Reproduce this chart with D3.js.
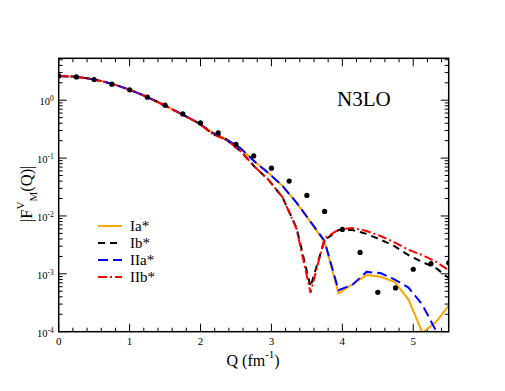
<!DOCTYPE html>
<html>
<head>
<meta charset="utf-8">
<script src="https://cdn.jsdelivr.net/npm/d3@7"></script>
<style>
  body { margin: 0; background: #fff; }
  text { font-family: "Liberation Serif", "Times New Roman", serif; fill: #000; }
</style>
</head>
<body>
<script>
// momentum grid of the calculated curves (fm^-1)
const Q = [0, 0.197, 0.395, 0.592, 0.789, 0.987, 1.184, 1.381, 1.578, 1.776,
  1.973, 2.170, 2.368, 2.565, 2.762, 2.960, 3.157, 3.354, 3.551, 3.749,
  3.946, 4.143, 4.341, 4.538, 4.735, 4.933, 5.130, 5.327, 5.524];

const IaStar = [2.62, 2.56, 2.40, 2.16, 1.86, 1.54, 1.23, 0.95, 0.72, 0.54,
  0.40, 0.275, 0.21, 0.148, 0.087, 0.055, 0.033, 0.017, 0.0078, 0.0036,
  4.6e-4, 6.6e-4, 9.5e-4, 8.9e-4, 7.3e-4, 3.6e-4, 9.5e-5, 1.5e-4, 3.1e-4];

const IbStar = [2.62, 2.56, 2.40, 2.16, 1.86, 1.54, 1.23, 0.95, 0.72, 0.54,
  0.40, 0.263, 0.205, 0.132, 0.071, 0.042, 0.021, 0.0062, 6.0e-4, 0.0038,
  0.0057, 0.0057, 0.0049, 0.0039, 0.0030, 0.0021, 0.0016, 0.00124, 8.0e-4];

const IIaStar = [2.62, 2.56, 2.40, 2.16, 1.86, 1.54, 1.23, 0.95, 0.72, 0.54,
  0.40, 0.275, 0.21, 0.148, 0.087, 0.055, 0.033, 0.017, 0.0080, 0.0037,
  5.2e-4, 6.5e-4, 1.08e-3, 1.03e-3, 8.0e-4, 5.8e-4, 2.9e-4, 1.0e-4, 5.0e-5];

const IIbStar = [2.62, 2.56, 2.40, 2.16, 1.86, 1.54, 1.23, 0.95, 0.72, 0.54,
  0.40, 0.263, 0.205, 0.132, 0.071, 0.042, 0.021, 0.0060, 4.7e-4, 0.0041,
  0.0058, 0.0062, 0.0055, 0.0045, 0.0035, 0.0026, 0.0021, 0.0016, 0.0011];

// experimental points
const dotQ = [0, 0.25, 0.5, 0.75, 1.0, 1.25, 1.5, 1.75, 2.0, 2.25, 2.5, 2.75,
  3.0, 3.25, 3.5, 3.75, 4.0, 4.25, 4.5, 4.75, 5.0, 5.25, 5.5];
const dotF = [2.63, 2.53, 2.28, 1.89, 1.51, 1.13, 0.82, 0.58, 0.405, 0.272, 0.172, 0.109,
  0.067, 0.040, 0.0226, 0.012, 0.00585, 0.00234, 4.8e-4, 5.7e-4, 0.0012, 0.0015, 0.00155];

const seriesNames = ["Ia*", "Ib*", "IIa*", "IIb*"];
const xTicks = [0, 1, 2, 3, 4, 5];
const yExponents = [-4, -3, -2, -1, 0];

const series = [
  { name: seriesNames[0], values: IaStar, color: "#ffa500", dash: null },
  { name: seriesNames[1], values: IbStar, color: "#000000", dash: "7,5" },
  { name: seriesNames[2], values: IIaStar, color: "#0000ff", dash: "10,5" },
  { name: seriesNames[3], values: IIbStar, color: "#ff0000", dash: "9,3,2,3" }
];

const width = 505, height = 391;
const plotLeft = 58.7, plotRight = 448.7, plotTop = 58.3, plotBottom = 331.7;

const x = d3.scaleLinear().domain([0, 5.5]).range([plotLeft, plotRight]);
const y = d3.scaleLog().domain([1e-4, 5.3]).range([plotBottom, plotTop]);

const svg = d3.select("body").append("svg")
    .attr("width", width)
    .attr("height", height);

svg.append("clipPath").attr("id", "plotClip")
  .append("rect")
    .attr("x", plotLeft).attr("y", plotTop)
    .attr("width", plotRight - plotLeft).attr("height", plotBottom - plotTop);

// ticks, all pointing inward, mirrored on top and right
const ticks = svg.append("g").attr("stroke", "#000").attr("stroke-width", 1);
const xMinor = d3.range(0, 5.51, 0.2).filter(v => Math.abs(v - Math.round(v)) > 1e-6);
xMinor.forEach(v => {
  ticks.append("line").attr("x1", x(v)).attr("x2", x(v)).attr("y1", plotBottom).attr("y2", plotBottom - 4);
  ticks.append("line").attr("x1", x(v)).attr("x2", x(v)).attr("y1", plotTop).attr("y2", plotTop + 4);
});
xTicks.forEach(v => {
  ticks.append("line").attr("x1", x(v)).attr("x2", x(v)).attr("y1", plotBottom).attr("y2", plotBottom - 8);
  ticks.append("line").attr("x1", x(v)).attr("x2", x(v)).attr("y1", plotTop).attr("y2", plotTop + 8);
});
const yMinor = y.ticks().filter(v => {
  const m = v / Math.pow(10, Math.floor(Math.log10(v) + 1e-9));
  return Math.abs(m - 1) > 1e-6;
});
yMinor.forEach(v => {
  ticks.append("line").attr("x1", plotLeft).attr("x2", plotLeft + 4).attr("y1", y(v)).attr("y2", y(v));
  ticks.append("line").attr("x1", plotRight).attr("x2", plotRight - 4).attr("y1", y(v)).attr("y2", y(v));
});
yExponents.forEach(e => {
  const v = Math.pow(10, e);
  ticks.append("line").attr("x1", plotLeft).attr("x2", plotLeft + 8).attr("y1", y(v)).attr("y2", y(v));
  ticks.append("line").attr("x1", plotRight).attr("x2", plotRight - 8).attr("y1", y(v)).attr("y2", y(v));
});

// tick labels
svg.append("g").selectAll("text")
  .data(xTicks)
  .join("text")
    .attr("x", d => x(d))
    .attr("y", plotBottom + 13)
    .attr("text-anchor", "middle")
    .style("font-size", "11px")
    .text(d => d);

const yLab = svg.append("g").selectAll("text")
  .data(yExponents)
  .join("text")
    .attr("x", plotLeft - 5)
    .attr("y", d => y(Math.pow(10, d)) + 5)
    .attr("text-anchor", "end")
    .style("font-size", "10.5px");
yLab.append("tspan").text("10");
yLab.append("tspan").attr("dy", -4).style("font-size", "7.5px").text(d => d);

// axis titles
const xTitle = svg.append("text")
    .attr("x", 226.5)
    .attr("y", 365.5)
    .style("font-size", "16px");
xTitle.append("tspan").text("Q (fm");
xTitle.append("tspan").attr("dy", -8).style("font-size", "11px").text("-1");
xTitle.append("tspan").attr("dy", 8).text(")");

const yTitle = svg.append("text")
    .attr("transform", "translate(32,222) rotate(-90)")
    .style("font-size", "16.5px");
yTitle.append("tspan").text("|F");
yTitle.append("tspan").attr("dy", -8).style("font-size", "11px").text("V");
yTitle.append("tspan").attr("dy", 13).style("font-size", "11px").text("M");
yTitle.append("tspan").attr("dy", -5).text("(Q)|");

// curves
const line = d3.line()
    .x(d => x(d[0]))
    .y(d => y(d[1]));

const plot = svg.append("g").attr("clip-path", "url(#plotClip)");

plot.selectAll("path.curve")
  .data(series)
  .join("path")
    .attr("class", "curve")
    .attr("fill", "none")
    .attr("stroke", d => d.color)
    .attr("stroke-width", 2)
    .attr("stroke-dasharray", d => d.dash)
    .attr("d", d => line(Q.map((q, i) => [q, d.values[i]])));

plot.selectAll("circle")
  .data(dotQ.map((q, i) => [q, dotF[i]]))
  .join("circle")
    .attr("cx", d => x(d[0]))
    .attr("cy", d => y(d[1]))
    .attr("r", 2.6)
    .attr("fill", "#000");

// frame
svg.append("rect")
    .attr("x", plotLeft).attr("y", plotTop)
    .attr("width", plotRight - plotLeft).attr("height", plotBottom - plotTop)
    .attr("fill", "none")
    .attr("stroke", "#000")
    .attr("stroke-width", 1.5);

// legend
const legend = svg.append("g").selectAll("g")
  .data(series)
  .join("g")
    .attr("transform", (d, i) => `translate(0,${226 + i * 17})`);

legend.append("line")
    .attr("x1", 98).attr("x2", 122)
    .attr("stroke", d => d.color)
    .attr("stroke-width", 2)
    .attr("stroke-dasharray", d => d.dash);

legend.append("text")
    .attr("x", 130)
    .attr("y", 5)
    .style("font-size", "15px")
    .text(d => d.name);

svg.append("text")
    .attr("x", 337)
    .attr("y", 106)
    .style("font-size", "21px")
    .text("N3LO");
</script>
</body>
</html>
